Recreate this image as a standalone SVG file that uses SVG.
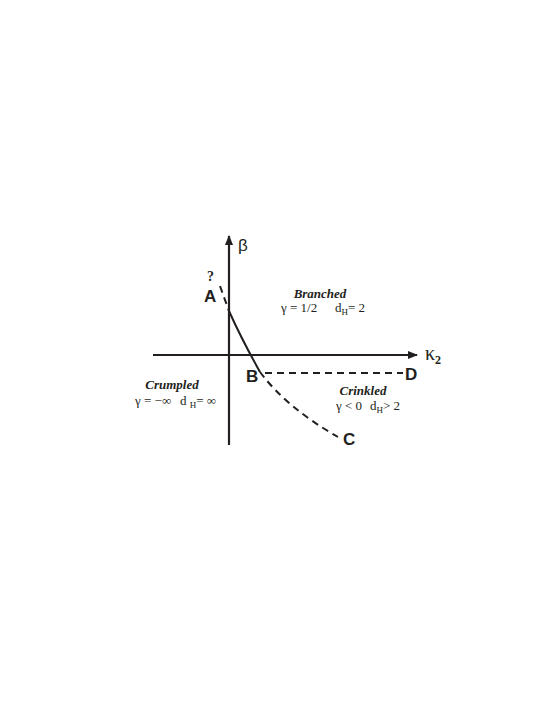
<svg xmlns="http://www.w3.org/2000/svg" width="554" height="717" viewBox="0 0 554 717">
<defs>
<marker id="ah" markerWidth="10" markerHeight="8" refX="9" refY="4" orient="auto" markerUnits="userSpaceOnUse">
<path d="M0,0 L10,4 L0,8 Z" fill="#231f20"/>
</marker>
<style>
.ax{stroke:#231f20;stroke-width:2.2;fill:none}
.cv{stroke:#231f20;stroke-width:2;fill:none}
.ds{stroke-dasharray:7,5}
.pt{font-family:"Liberation Sans",Arial,sans-serif;font-weight:bold;font-size:17px;fill:#231f20}
.m{font-family:"Liberation Serif","Times New Roman",serif;font-size:13px;fill:#231f20}
.t{font-family:"Liberation Serif","Times New Roman",serif;font-size:13px;font-weight:bold;font-style:italic;fill:#231f20;text-anchor:middle}
.sub{font-size:9px}
</style>
</defs>
<rect width="554" height="717" fill="#fff"/>
<g id="connectors">
<line class="ax" x1="229" y1="445" x2="229" y2="236" marker-end="url(#ah)"/>
<line class="ax" x1="153" y1="355" x2="417" y2="355" marker-end="url(#ah)"/>
<path class="cv ds" d="M220,286 L229,311" stroke-dasharray="9,4"/>
<path class="cv" d="M229,311 Q241,338 260,372"/>
<path class="cv ds" d="M260,372 Q287,408 338,437"/>
<line class="cv ds" x1="265" y1="373" x2="403" y2="373"/>
</g>
<g id="axis-labels">
<text x="238" y="251" style="font-family:'Liberation Sans',Arial,sans-serif;font-size:17px;fill:#231f20">β</text>
<text class="m" x="425" y="360" style="font-size:20px">κ<tspan dy="4" style="font-size:12px;font-weight:bold">2</tspan></text>
</g>
<g id="A">
<text x="207" y="281" class="m" style="font-weight:bold;font-size:14px">?</text>
<text class="pt" x="204" y="302">A</text>
</g>
<g id="B"><text class="pt" x="246" y="382">B</text></g>
<g id="C"><text class="pt" x="343" y="445">C</text></g>
<g id="D"><text class="pt" x="405" y="380">D</text></g>
<g id="branched">
<text class="t" x="320" y="298">Branched</text>
<text class="m" x="281" y="312">γ = 1/2<tspan x="335">d</tspan><tspan class="sub" dy="3">H</tspan><tspan dy="-3">= 2</tspan></text>
</g>
<g id="crumpled">
<text class="t" x="172" y="389">Crumpled</text>
<text class="m" x="135" y="405">γ = −∞<tspan x="180">d </tspan><tspan class="sub" dy="3">H</tspan><tspan dy="-3">= ∞</tspan></text>
</g>
<g id="crinkled">
<text class="t" x="363" y="395">Crinkled</text>
<text class="m" x="336" y="410">γ &lt; 0<tspan x="370">d</tspan><tspan class="sub" dy="3">H</tspan><tspan dy="-3">&gt; 2</tspan></text>
</g>
</svg>
